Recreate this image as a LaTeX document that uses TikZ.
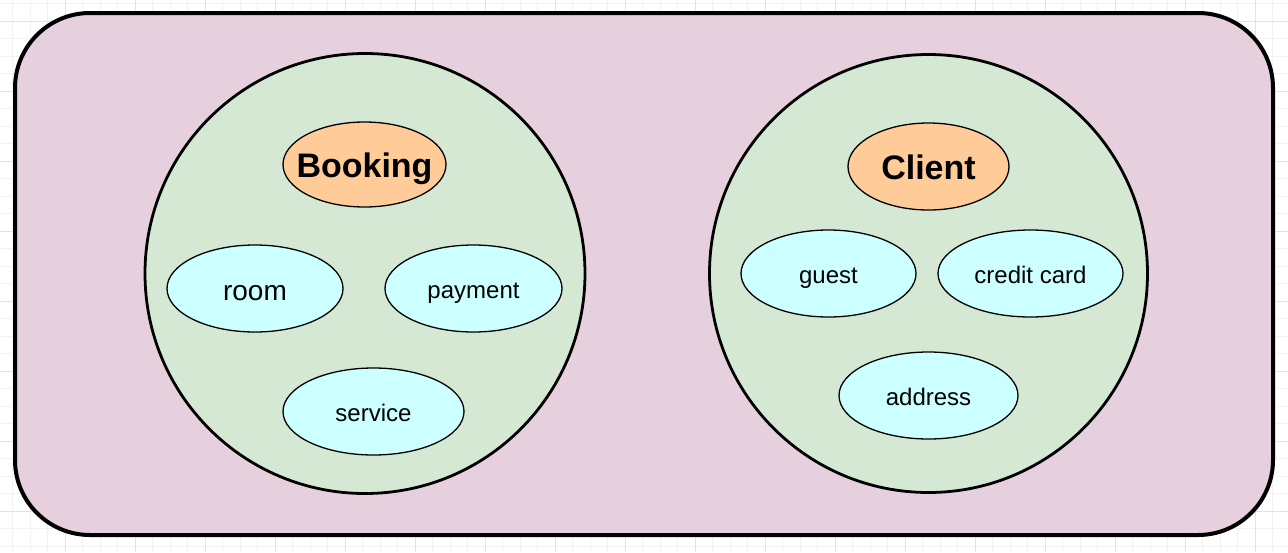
\documentclass[tikz,border=0pt]{standalone}
\usepackage{fontspec}
\setmainfont{Liberation Sans}
\usetikzlibrary{shapes.geometric}
\definecolor{gridminor}{HTML}{F2F2F2}
\definecolor{gridmajor}{HTML}{E3E3E3}
\definecolor{outerfill}{HTML}{E6D0DE}
\definecolor{groupfill}{HTML}{D5E8D4}
\definecolor{headfill}{HTML}{FFCC99}
\definecolor{itemfill}{HTML}{CCFFFF}
\newcommand{\zw}[1]{\makebox[0pt]{#1}}
\tikzset{
  outerbox/.style={draw=black, line width=4pt, fill=outerfill, rounded corners=75pt},
  groupcircle/.style={circle, draw=black, line width=2.8pt, fill=groupfill, inner sep=0pt},
  headell/.style={ellipse, draw=black, line width=1.3pt, fill=headfill, inner sep=0pt,
    font=\fontsize{34}{38}\selectfont\bfseries, text height=25.8pt, text depth=0pt},
  itemell/.style={ellipse, draw=black, line width=1.3pt, fill=itemfill, inner sep=0pt,
    font=\fontsize{24}{28}\selectfont, text height=20.2pt, text depth=0pt},
}
\begin{document}
\begin{tikzpicture}[x=1pt,y=-1pt]
\useasboundingbox (0,0) rectangle (1288,552);
\fill[white] (0,0) rectangle (1288,552);
% grid
\foreach \i in {0,...,73} {
  \draw[gridminor, line width=0.8pt] ({12.5+17.5*\i},0) -- ({12.5+17.5*\i},552);
}
\foreach \i in {0,...,31} {
  \draw[gridminor, line width=0.8pt] (0,{3.5+17.5*\i}) -- (1288,{3.5+17.5*\i});
}
\foreach \i in {-1,...,18} {
  \draw[gridmajor, line width=0.8pt] ({65+70*\i},0) -- ({65+70*\i},552);
}
\foreach \i in {0,...,7} {
  \draw[gridmajor, line width=0.8pt] (0,{21+70*\i}) -- (1288,{21+70*\i});
}
% outer container
\draw[outerbox] (15,13) rectangle (1273,535);
% groups
\node[groupcircle, minimum size=440pt] (booking group) at (365,273.5) {};
\node[groupcircle, minimum size=438pt] (client group) at (928.5,273.5) {};
% heads
\node[headell, minimum width=163pt, minimum height=85pt] (booking) at (364.5,164.5) {\zw{Booking}};
\node[headell, minimum width=161pt, minimum height=87pt] (client) at (928.5,166.5) {\zw{Client}};
% items
\node[itemell, minimum width=176pt, minimum height=87pt, font=\fontsize{28}{32}\selectfont, text height=23.5pt] (room) at (255,288.5) {\zw{room}};
\node[itemell, minimum width=177pt, minimum height=87pt] (payment) at (473.5,288.5) {\zw{payment}};
\node[itemell, minimum width=181pt, minimum height=87pt] (service) at (373.5,411.5) {\zw{service}};
\node[itemell, minimum width=175pt, minimum height=87pt] (guest) at (828.5,273.5) {\zw{guest}};
\node[itemell, minimum width=185pt, minimum height=87pt] (credit card) at (1030.5,273.5) {\zw{credit card}};
\node[itemell, minimum width=179pt, minimum height=87pt] (address) at (928.5,395.5) {\zw{address}};
\end{tikzpicture}
\end{document}
